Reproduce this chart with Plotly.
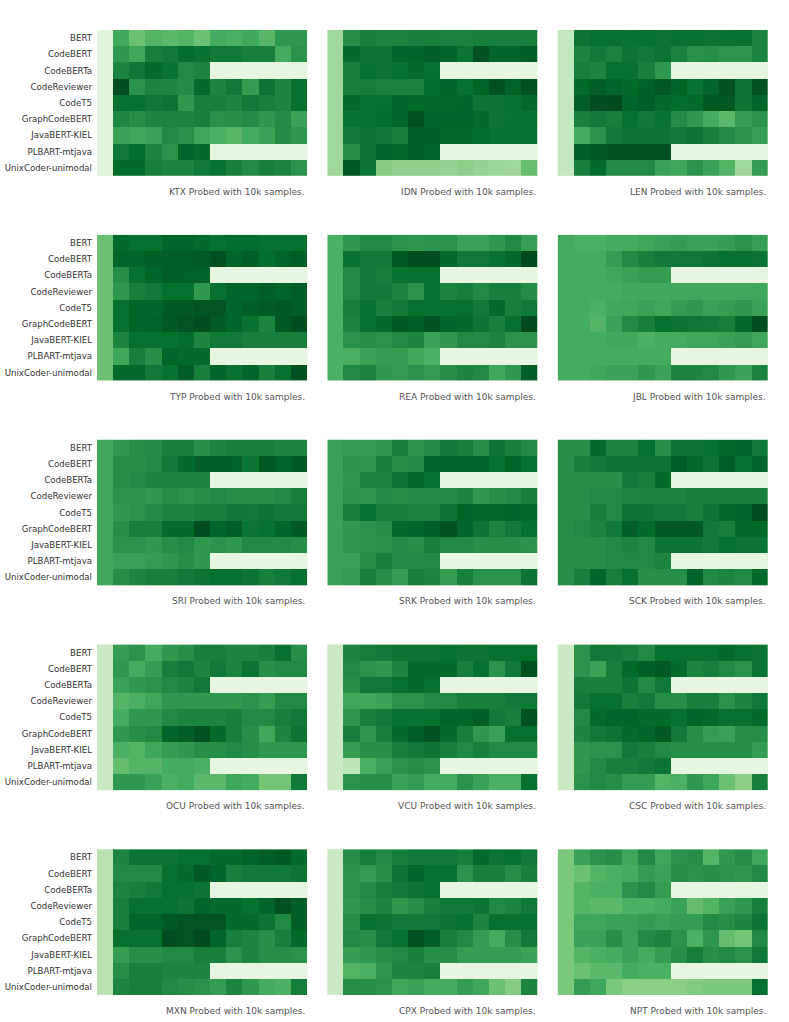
import plotly.graph_objects as go
import plotly.express as px

models = ["BERT", "CodeBERT", "CodeBERTa", "CodeReviewer", "CodeT5",
          "GraphCodeBERT", "JavaBERT-KIEL", "PLBART-mtjava", "UnixCoder-unimodal"]
layers = list(range(13))
tasks = ["KTX", "IDN", "LEN", "TYP", "REA", "JBL", "SRI", "SRK", "SCK",
         "OCU", "VCU", "CSC", "MXN", "CPX", "NPT"]
N = None

# values per task: rows = models, columns = layer 0 (baseline) .. layer 12
KTX = [
    [0.14, 0.63, 0.52, 0.58, 0.56, 0.58, 0.52, 0.62, 0.60, 0.63, 0.57, 0.70, 0.70],
    [0.14, 0.70, 0.64, 0.80, 0.82, 0.87, 0.85, 0.82, 0.82, 0.80, 0.80, 0.62, 0.72],
    [0.14, 0.78, 0.83, 0.88, 0.85, 0.76, 0.78, N, N, N, N, N, N],
    [0.14, 0.97, 0.72, 0.78, 0.77, 0.75, 0.88, 0.78, 0.82, 0.68, 0.84, 0.78, 0.86],
    [0.14, 0.86, 0.86, 0.83, 0.84, 0.70, 0.80, 0.80, 0.78, 0.82, 0.80, 0.78, 0.86],
    [0.14, 0.77, 0.74, 0.78, 0.78, 0.78, 0.80, 0.73, 0.74, 0.75, 0.70, 0.75, 0.66],
    [0.14, 0.66, 0.64, 0.66, 0.76, 0.73, 0.64, 0.60, 0.57, 0.62, 0.66, 0.75, 0.70],
    [0.14, 0.82, 0.87, 0.78, 0.72, 0.90, 0.88, N, N, N, N, N, N],
    [0.14, 0.88, 0.88, 0.80, 0.78, 0.78, 0.82, 0.85, 0.80, 0.76, 0.80, 0.78, 0.72],
]
IDN = [
    [0.38, 0.74, 0.80, 0.78, 0.78, 0.80, 0.80, 0.79, 0.79, 0.80, 0.80, 0.80, 0.80],
    [0.38, 0.88, 0.84, 0.84, 0.90, 0.90, 0.92, 0.90, 0.84, 0.96, 0.90, 0.90, 0.92],
    [0.38, 0.80, 0.85, 0.84, 0.85, 0.88, 0.86, N, N, N, N, N, N],
    [0.38, 0.80, 0.80, 0.79, 0.79, 0.79, 0.87, 0.90, 0.86, 0.90, 0.96, 0.91, 0.96],
    [0.38, 0.88, 0.86, 0.86, 0.89, 0.88, 0.88, 0.88, 0.89, 0.84, 0.84, 0.86, 0.88],
    [0.38, 0.85, 0.86, 0.87, 0.90, 0.96, 0.90, 0.90, 0.91, 0.88, 0.84, 0.85, 0.85],
    [0.38, 0.82, 0.84, 0.83, 0.80, 0.92, 0.92, 0.88, 0.88, 0.87, 0.85, 0.86, 0.86],
    [0.38, 0.74, 0.84, 0.90, 0.88, 0.92, 0.90, N, N, N, N, N, N],
    [0.38, 0.94, 0.84, 0.45, 0.42, 0.42, 0.42, 0.41, 0.43, 0.41, 0.39, 0.38, 0.53],
]
LEN = [
    [0.26, 0.84, 0.86, 0.86, 0.85, 0.86, 0.84, 0.86, 0.86, 0.84, 0.85, 0.86, 0.78],
    [0.26, 0.78, 0.82, 0.79, 0.84, 0.82, 0.84, 0.79, 0.73, 0.74, 0.71, 0.71, 0.78],
    [0.26, 0.80, 0.78, 0.86, 0.86, 0.80, 0.70, N, N, N, N, N, N],
    [0.26, 0.88, 0.92, 0.90, 0.88, 0.91, 0.94, 0.90, 0.85, 0.90, 0.96, 0.84, 0.96],
    [0.26, 0.92, 0.97, 0.98, 0.90, 0.92, 0.88, 0.87, 0.88, 0.94, 0.94, 0.84, 0.90],
    [0.26, 0.80, 0.82, 0.80, 0.86, 0.82, 0.85, 0.75, 0.70, 0.62, 0.56, 0.68, 0.72],
    [0.26, 0.62, 0.72, 0.82, 0.84, 0.84, 0.84, 0.82, 0.84, 0.80, 0.76, 0.72, 0.67],
    [0.26, 0.92, 0.94, 0.96, 0.96, 0.96, 0.96, N, N, N, N, N, N],
    [0.26, 0.80, 0.88, 0.76, 0.75, 0.76, 0.66, 0.64, 0.72, 0.66, 0.58, 0.38, 0.68],
]
TYP = [
    [0.52, 0.88, 0.86, 0.86, 0.90, 0.90, 0.88, 0.86, 0.87, 0.87, 0.86, 0.86, 0.86],
    [0.52, 0.90, 0.90, 0.92, 0.92, 0.92, 0.93, 0.96, 0.90, 0.92, 0.87, 0.90, 0.92],
    [0.52, 0.74, 0.86, 0.90, 0.92, 0.91, 0.91, N, N, N, N, N, N],
    [0.52, 0.70, 0.80, 0.82, 0.86, 0.86, 0.70, 0.86, 0.90, 0.90, 0.92, 0.90, 0.92],
    [0.52, 0.86, 0.90, 0.90, 0.94, 0.94, 0.95, 0.95, 0.90, 0.92, 0.93, 0.94, 0.92],
    [0.52, 0.86, 0.90, 0.91, 0.94, 0.95, 0.97, 0.93, 0.90, 0.85, 0.78, 0.94, 0.97],
    [0.52, 0.78, 0.86, 0.86, 0.86, 0.87, 0.78, 0.82, 0.82, 0.80, 0.80, 0.80, 0.80],
    [0.52, 0.64, 0.80, 0.74, 0.90, 0.88, 0.88, N, N, N, N, N, N],
    [0.52, 0.88, 0.88, 0.82, 0.85, 0.92, 0.80, 0.90, 0.86, 0.90, 0.80, 0.86, 0.96],
]
REA = [
    [0.60, 0.70, 0.76, 0.76, 0.72, 0.70, 0.72, 0.72, 0.66, 0.66, 0.70, 0.76, 0.67],
    [0.60, 0.85, 0.82, 0.82, 0.94, 0.97, 0.97, 0.88, 0.82, 0.82, 0.85, 0.88, 0.98],
    [0.60, 0.76, 0.82, 0.80, 0.85, 0.85, 0.86, N, N, N, N, N, N],
    [0.60, 0.76, 0.82, 0.82, 0.78, 0.72, 0.86, 0.78, 0.80, 0.76, 0.80, 0.80, 0.75],
    [0.60, 0.80, 0.86, 0.80, 0.82, 0.86, 0.86, 0.86, 0.86, 0.82, 0.88, 0.80, 0.82],
    [0.60, 0.78, 0.86, 0.88, 0.94, 0.92, 0.96, 0.90, 0.88, 0.84, 0.80, 0.86, 0.98],
    [0.60, 0.72, 0.74, 0.72, 0.76, 0.78, 0.66, 0.70, 0.76, 0.76, 0.78, 0.72, 0.72],
    [0.60, 0.60, 0.66, 0.68, 0.68, 0.64, 0.60, N, N, N, N, N, N],
    [0.60, 0.76, 0.78, 0.70, 0.68, 0.72, 0.68, 0.74, 0.78, 0.76, 0.64, 0.70, 0.92],
]
JBL = [
    [0.62, 0.60, 0.60, 0.62, 0.62, 0.64, 0.66, 0.68, 0.66, 0.66, 0.68, 0.72, 0.67],
    [0.62, 0.62, 0.62, 0.68, 0.76, 0.80, 0.82, 0.82, 0.82, 0.84, 0.86, 0.86, 0.84],
    [0.62, 0.62, 0.62, 0.64, 0.66, 0.68, 0.68, N, N, N, N, N, N],
    [0.62, 0.62, 0.62, 0.62, 0.63, 0.63, 0.63, 0.63, 0.63, 0.63, 0.63, 0.63, 0.64],
    [0.62, 0.62, 0.60, 0.63, 0.64, 0.66, 0.64, 0.68, 0.70, 0.66, 0.68, 0.70, 0.66],
    [0.62, 0.62, 0.58, 0.66, 0.76, 0.80, 0.86, 0.84, 0.83, 0.82, 0.80, 0.88, 0.97],
    [0.62, 0.62, 0.62, 0.63, 0.63, 0.60, 0.62, 0.62, 0.64, 0.64, 0.66, 0.68, 0.64],
    [0.62, 0.62, 0.62, 0.62, 0.62, 0.62, 0.62, N, N, N, N, N, N],
    [0.62, 0.62, 0.64, 0.66, 0.66, 0.70, 0.66, 0.78, 0.78, 0.76, 0.70, 0.66, 0.78],
]
SRI = [
    [0.64, 0.70, 0.74, 0.75, 0.80, 0.80, 0.74, 0.78, 0.80, 0.80, 0.80, 0.78, 0.78],
    [0.64, 0.74, 0.74, 0.76, 0.82, 0.88, 0.92, 0.92, 0.91, 0.84, 0.94, 0.90, 0.94],
    [0.64, 0.74, 0.76, 0.78, 0.78, 0.78, 0.78, N, N, N, N, N, N],
    [0.64, 0.72, 0.72, 0.70, 0.74, 0.72, 0.74, 0.76, 0.74, 0.74, 0.74, 0.76, 0.80],
    [0.64, 0.70, 0.72, 0.75, 0.78, 0.78, 0.80, 0.80, 0.83, 0.82, 0.84, 0.82, 0.82],
    [0.64, 0.74, 0.80, 0.80, 0.88, 0.88, 0.97, 0.90, 0.92, 0.84, 0.86, 0.90, 0.94],
    [0.64, 0.72, 0.72, 0.70, 0.74, 0.76, 0.70, 0.72, 0.70, 0.76, 0.76, 0.76, 0.74],
    [0.64, 0.66, 0.66, 0.68, 0.70, 0.74, 0.70, N, N, N, N, N, N],
    [0.64, 0.74, 0.78, 0.80, 0.80, 0.82, 0.84, 0.86, 0.86, 0.84, 0.80, 0.82, 0.86],
]
SRK = [
    [0.66, 0.68, 0.68, 0.70, 0.80, 0.72, 0.76, 0.82, 0.80, 0.74, 0.84, 0.80, 0.76],
    [0.66, 0.72, 0.70, 0.80, 0.74, 0.76, 0.90, 0.90, 0.90, 0.90, 0.86, 0.90, 0.86],
    [0.66, 0.70, 0.78, 0.78, 0.84, 0.88, 0.86, N, N, N, N, N, N],
    [0.66, 0.72, 0.70, 0.76, 0.74, 0.76, 0.76, 0.76, 0.78, 0.70, 0.74, 0.76, 0.80],
    [0.66, 0.80, 0.86, 0.80, 0.80, 0.78, 0.78, 0.84, 0.90, 0.88, 0.88, 0.90, 0.88],
    [0.66, 0.70, 0.72, 0.74, 0.88, 0.90, 0.92, 0.96, 0.90, 0.84, 0.78, 0.82, 0.86],
    [0.66, 0.70, 0.72, 0.73, 0.76, 0.74, 0.80, 0.76, 0.76, 0.74, 0.74, 0.74, 0.72],
    [0.66, 0.66, 0.74, 0.80, 0.76, 0.76, 0.76, N, N, N, N, N, N],
    [0.66, 0.68, 0.80, 0.74, 0.68, 0.80, 0.78, 0.68, 0.80, 0.72, 0.72, 0.72, 0.84],
]
SCK = [
    [0.74, 0.74, 0.88, 0.78, 0.78, 0.86, 0.74, 0.84, 0.84, 0.86, 0.88, 0.90, 0.82],
    [0.74, 0.80, 0.82, 0.84, 0.84, 0.84, 0.84, 0.92, 0.88, 0.84, 0.92, 0.86, 0.90],
    [0.74, 0.74, 0.74, 0.74, 0.82, 0.80, 0.88, N, N, N, N, N, N],
    [0.74, 0.74, 0.76, 0.76, 0.77, 0.78, 0.78, 0.78, 0.80, 0.80, 0.80, 0.80, 0.80],
    [0.74, 0.74, 0.80, 0.76, 0.84, 0.84, 0.82, 0.82, 0.80, 0.84, 0.88, 0.90, 0.97],
    [0.74, 0.76, 0.78, 0.82, 0.92, 0.88, 0.94, 0.94, 0.94, 0.82, 0.80, 0.88, 0.88],
    [0.74, 0.74, 0.74, 0.76, 0.78, 0.76, 0.84, 0.84, 0.84, 0.82, 0.86, 0.84, 0.84],
    [0.74, 0.74, 0.74, 0.76, 0.76, 0.76, 0.78, N, N, N, N, N, N],
    [0.74, 0.80, 0.90, 0.80, 0.86, 0.74, 0.74, 0.74, 0.90, 0.76, 0.78, 0.76, 0.88],
]
OCU = [
    [0.24, 0.68, 0.72, 0.62, 0.70, 0.74, 0.80, 0.80, 0.78, 0.78, 0.80, 0.86, 0.74],
    [0.24, 0.70, 0.62, 0.68, 0.80, 0.82, 0.78, 0.82, 0.78, 0.84, 0.74, 0.76, 0.76],
    [0.24, 0.66, 0.70, 0.72, 0.76, 0.78, 0.82, N, N, N, N, N, N],
    [0.24, 0.58, 0.60, 0.64, 0.70, 0.70, 0.70, 0.70, 0.70, 0.72, 0.68, 0.76, 0.76],
    [0.24, 0.62, 0.70, 0.70, 0.76, 0.78, 0.78, 0.78, 0.80, 0.76, 0.76, 0.80, 0.82],
    [0.24, 0.70, 0.74, 0.76, 0.90, 0.92, 0.96, 0.88, 0.80, 0.74, 0.64, 0.78, 0.84],
    [0.24, 0.60, 0.58, 0.64, 0.68, 0.70, 0.74, 0.74, 0.76, 0.74, 0.70, 0.70, 0.70],
    [0.24, 0.54, 0.58, 0.58, 0.62, 0.62, 0.60, N, N, N, N, N, N],
    [0.24, 0.70, 0.70, 0.66, 0.60, 0.62, 0.56, 0.56, 0.64, 0.62, 0.50, 0.50, 0.82],
]
VCU = [
    [0.24, 0.78, 0.80, 0.82, 0.84, 0.84, 0.84, 0.86, 0.84, 0.84, 0.86, 0.86, 0.86],
    [0.24, 0.76, 0.72, 0.70, 0.78, 0.88, 0.88, 0.88, 0.80, 0.86, 0.72, 0.82, 0.96],
    [0.24, 0.74, 0.82, 0.82, 0.86, 0.88, 0.86, N, N, N, N, N, N],
    [0.24, 0.64, 0.64, 0.66, 0.72, 0.72, 0.76, 0.76, 0.80, 0.80, 0.80, 0.82, 0.82],
    [0.24, 0.70, 0.80, 0.82, 0.86, 0.85, 0.85, 0.90, 0.90, 0.92, 0.82, 0.80, 0.96],
    [0.24, 0.80, 0.70, 0.80, 0.88, 0.92, 0.96, 0.88, 0.80, 0.70, 0.66, 0.86, 0.86],
    [0.24, 0.68, 0.74, 0.74, 0.80, 0.82, 0.84, 0.80, 0.76, 0.80, 0.76, 0.76, 0.76],
    [0.24, 0.28, 0.60, 0.66, 0.72, 0.74, 0.72, N, N, N, N, N, N],
    [0.24, 0.72, 0.74, 0.74, 0.66, 0.68, 0.62, 0.62, 0.72, 0.66, 0.60, 0.60, 0.86],
]
CSC = [
    [0.24, 0.72, 0.82, 0.82, 0.80, 0.76, 0.86, 0.86, 0.86, 0.86, 0.88, 0.86, 0.84],
    [0.24, 0.72, 0.66, 0.80, 0.88, 0.92, 0.94, 0.88, 0.78, 0.80, 0.76, 0.72, 0.84],
    [0.24, 0.80, 0.80, 0.80, 0.84, 0.76, 0.82, N, N, N, N, N, N],
    [0.24, 0.82, 0.86, 0.86, 0.80, 0.82, 0.74, 0.74, 0.80, 0.80, 0.72, 0.78, 0.82],
    [0.24, 0.76, 0.88, 0.90, 0.90, 0.88, 0.88, 0.86, 0.90, 0.88, 0.86, 0.86, 0.88],
    [0.24, 0.78, 0.82, 0.84, 0.88, 0.90, 0.94, 0.82, 0.74, 0.68, 0.66, 0.74, 0.74],
    [0.24, 0.70, 0.72, 0.72, 0.82, 0.80, 0.76, 0.74, 0.74, 0.74, 0.74, 0.74, 0.68],
    [0.24, 0.70, 0.76, 0.80, 0.80, 0.82, 0.84, N, N, N, N, N, N],
    [0.24, 0.72, 0.76, 0.74, 0.68, 0.68, 0.58, 0.60, 0.70, 0.64, 0.52, 0.44, 0.80],
]
MXN = [
    [0.30, 0.78, 0.84, 0.84, 0.84, 0.86, 0.86, 0.88, 0.88, 0.90, 0.92, 0.94, 0.88],
    [0.30, 0.76, 0.76, 0.76, 0.86, 0.88, 0.94, 0.90, 0.80, 0.82, 0.82, 0.82, 0.84],
    [0.30, 0.78, 0.80, 0.82, 0.86, 0.86, 0.84, N, N, N, N, N, N],
    [0.30, 0.80, 0.86, 0.86, 0.86, 0.84, 0.90, 0.88, 0.88, 0.86, 0.90, 0.96, 0.92],
    [0.30, 0.80, 0.90, 0.90, 0.94, 0.95, 0.95, 0.95, 0.88, 0.88, 0.84, 0.76, 0.92],
    [0.30, 0.86, 0.86, 0.86, 0.97, 0.95, 0.98, 0.90, 0.80, 0.78, 0.74, 0.80, 0.88],
    [0.30, 0.68, 0.74, 0.74, 0.76, 0.76, 0.80, 0.80, 0.72, 0.78, 0.74, 0.74, 0.72],
    [0.30, 0.74, 0.80, 0.80, 0.78, 0.78, 0.78, N, N, N, N, N, N],
    [0.30, 0.78, 0.80, 0.80, 0.76, 0.74, 0.72, 0.68, 0.78, 0.70, 0.62, 0.60, 0.80],
]
CPX = [
    [0.24, 0.74, 0.80, 0.76, 0.80, 0.82, 0.82, 0.82, 0.80, 0.88, 0.84, 0.86, 0.82],
    [0.24, 0.72, 0.68, 0.74, 0.84, 0.90, 0.86, 0.86, 0.72, 0.80, 0.80, 0.74, 0.80],
    [0.24, 0.72, 0.76, 0.80, 0.82, 0.84, 0.86, N, N, N, N, N, N],
    [0.24, 0.70, 0.74, 0.78, 0.70, 0.74, 0.80, 0.82, 0.82, 0.84, 0.76, 0.78, 0.82],
    [0.24, 0.74, 0.86, 0.84, 0.82, 0.82, 0.82, 0.84, 0.86, 0.78, 0.86, 0.86, 0.86],
    [0.24, 0.76, 0.74, 0.82, 0.86, 0.96, 0.92, 0.80, 0.76, 0.68, 0.62, 0.74, 0.82],
    [0.24, 0.68, 0.70, 0.74, 0.76, 0.80, 0.74, 0.74, 0.68, 0.68, 0.68, 0.68, 0.66],
    [0.24, 0.58, 0.60, 0.70, 0.78, 0.78, 0.80, N, N, N, N, N, N],
    [0.24, 0.74, 0.74, 0.72, 0.64, 0.66, 0.62, 0.62, 0.68, 0.64, 0.52, 0.45, 0.78],
]
NPT = [
    [0.48, 0.66, 0.72, 0.74, 0.64, 0.76, 0.64, 0.72, 0.74, 0.58, 0.70, 0.74, 0.64],
    [0.48, 0.52, 0.58, 0.60, 0.62, 0.68, 0.66, 0.74, 0.72, 0.74, 0.72, 0.70, 0.76],
    [0.48, 0.58, 0.60, 0.60, 0.72, 0.76, 0.68, N, N, N, N, N, N],
    [0.48, 0.58, 0.56, 0.56, 0.60, 0.60, 0.62, 0.66, 0.54, 0.58, 0.66, 0.70, 0.80],
    [0.48, 0.64, 0.64, 0.66, 0.66, 0.68, 0.66, 0.68, 0.68, 0.76, 0.74, 0.78, 0.84],
    [0.48, 0.66, 0.66, 0.74, 0.66, 0.76, 0.78, 0.72, 0.60, 0.70, 0.54, 0.50, 0.76],
    [0.48, 0.58, 0.60, 0.62, 0.66, 0.62, 0.68, 0.74, 0.80, 0.74, 0.76, 0.72, 0.82],
    [0.48, 0.52, 0.56, 0.56, 0.62, 0.60, 0.60, N, N, N, N, N, N],
    [0.48, 0.68, 0.64, 0.48, 0.44, 0.44, 0.44, 0.44, 0.46, 0.48, 0.48, 0.48, 0.86],
]

task_data = {"KTX": KTX, "IDN": IDN, "LEN": LEN, "TYP": TYP, "REA": REA,
             "JBL": JBL, "SRI": SRI, "SRK": SRK, "SCK": SCK, "OCU": OCU,
             "VCU": VCU, "CSC": CSC, "MXN": MXN, "CPX": CPX, "NPT": NPT}

# ---- layout geometry (pixels); page body margin is removed below ----
W, H = 789, 1022
ML, MR, MT, MB = 97, 21, 30, 27
PW, PH = W - ML - MR, H - MT - MB
HGAP, VGAP = 20, 59
CW = (PW - 2 * HGAP) / 3
CH = (PH - 4 * VGAP) / 5


def clamp(v):
    return round(min(1.0, max(0.0, v)), 6)


greens = px.colors.sequential.Greens

fig = go.Figure()
annotations = []
for i, task in enumerate(tasks):
    r, c = divmod(i, 3)
    idx = "" if i == 0 else str(i + 1)
    x0 = clamp(c * (CW + HGAP) / PW)
    x1 = clamp((c * (CW + HGAP) + CW) / PW)
    y1 = clamp((PH - r * (CH + VGAP)) / PH)
    y0 = clamp((PH - r * (CH + VGAP) - CH) / PH)
    fig.add_trace(go.Heatmap(
        z=task_data[task], x=layers, y=models,
        colorscale=greens, zmin=0, zmax=1, showscale=False,
        xaxis="x" + idx, yaxis="y" + idx,
        hoverongaps=False,
    ))
    fig.layout["xaxis" + idx] = dict(
        domain=[x0, x1], anchor="y" + idx, showticklabels=False,
        showgrid=False, zeroline=False, ticks="", fixedrange=True,
        automargin=False,
    )
    fig.layout["yaxis" + idx] = dict(
        domain=[y0, y1], anchor="x" + idx, autorange="reversed",
        showticklabels=(c == 0), showgrid=False, zeroline=False, ticks="",
        tickfont=dict(family="DejaVu Sans", size=8.6, color="#333333"),
        ticklabelstandoff=4, automargin=False,
    )
    annotations.append(dict(
        text=f"{task} Probed with 10k samples.", xref="paper", yref="paper",
        x=x1, y=y0, xanchor="right", yanchor="middle", yshift=-16,
        showarrow=False, font=dict(family="DejaVu Sans", size=9, color="#555555"),
    ))

fig.update_layout(
    width=W, height=H,
    margin=dict(l=ML, r=MR, t=MT, b=MB),
    paper_bgcolor="white", plot_bgcolor="#e6f6e0",
    annotations=annotations, showlegend=False,
)
fig.write_html(
    "out.html",
    config={"displayModeBar": False},
    post_script="document.body.style.margin='0';",
)
